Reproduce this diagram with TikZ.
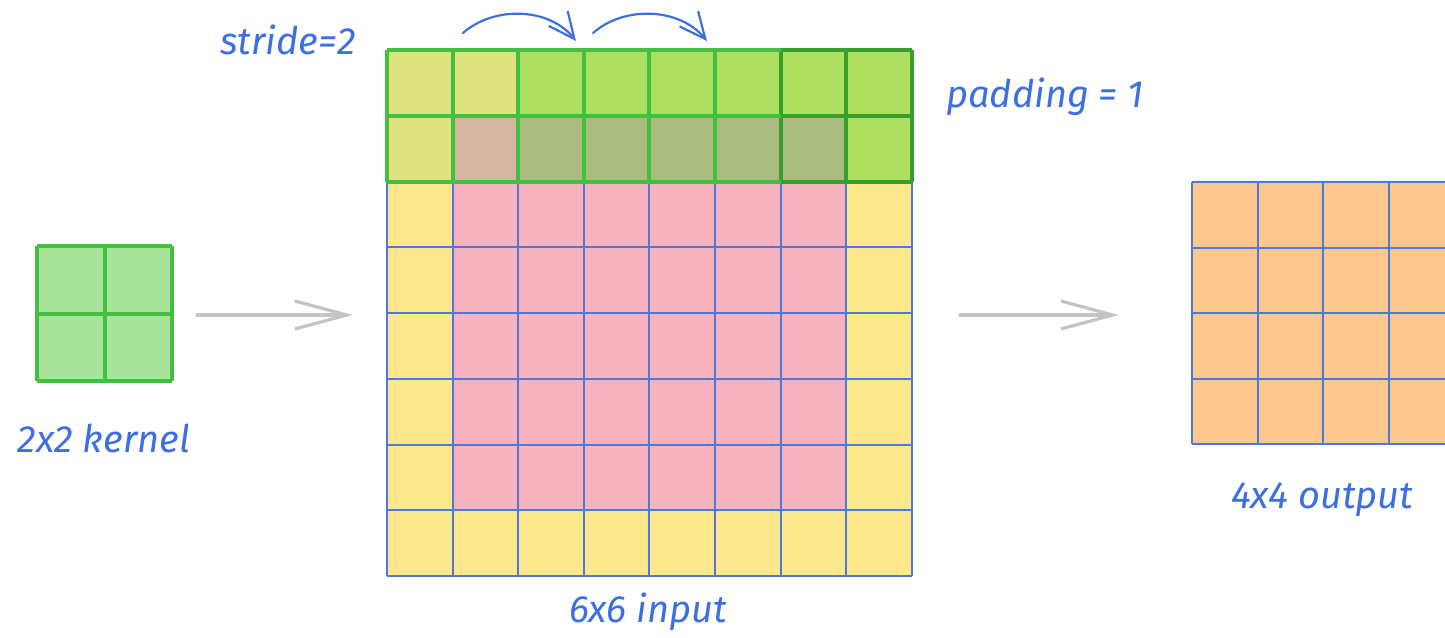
\documentclass[tikz,border=0pt]{standalone}
\usepackage{fontspec}
\setmainfont{Fira Sans}
\usetikzlibrary{arrows.meta}
\definecolor{padyellow}{HTML}{FDE98C}
\definecolor{datapink}{HTML}{F7B3C0}
\definecolor{outorange}{HTML}{FDC890}
\definecolor{kfill}{HTML}{A8E49C}
\definecolor{kline}{HTML}{44C040}
\definecolor{ygreen}{HTML}{DFE47E}
\definecolor{bgreen}{HTML}{AEDF60}
\definecolor{tanmix}{HTML}{D6B6A0}
\definecolor{olivemix}{HTML}{ACBB80}
\definecolor{dgreen}{HTML}{35A02E}
\definecolor{gridblue}{HTML}{4F78D8}
\definecolor{labelblue}{HTML}{3D6FE0}
\definecolor{arrowgray}{HTML}{C4C4C4}
\tikzset{
  lbl/.style={text=labelblue, font=\fontsize{19}{22}\selectfont\itshape, inner sep=0pt},
  bluegrid/.style={draw=gridblue, line width=1pt},
  greengrid/.style={draw=kline, line width=2pt},
  flowarrow/.style={draw=arrowgray, line width=1.6pt, line cap=round,
    -{Straight Barb[length=26pt, width=14pt, line width=1.6pt]}},
  stridearrow/.style={draw=labelblue, line width=1.1pt, line cap=round,
    -{Straight Barb[length=13pt, width=12pt, line width=1.1pt]}},
}
\begin{document}
\begin{tikzpicture}[x=0.5pt, y=-0.5pt]
\useasboundingbox (0,0) rectangle (1445,637);
\clip (0,0) rectangle (1445,637);

% ---- 2x2 kernel ----
\def\kc{67.5}
\foreach \i in {0,1} \foreach \j in {0,1}
  \fill[kfill] (37+\i*\kc, 246+\j*\kc) rectangle ++(\kc,\kc);
\foreach \i in {0,1,2}
  \draw[kline, line width=2pt] (37+\i*\kc,246) -- (37+\i*\kc,381);
\foreach \j in {0,1,2}
  \draw[kline, line width=2pt] (37,246+\j*\kc) -- (172,246+\j*\kc);
\node[inner sep=0pt, minimum width=67.5pt, minimum height=67.5pt] (kernel) at (104.5,313.5) {};

% ---- padded 6x6 input (8x8 with padding) ----
\def\ix{387}\def\iy{50}\def\cw{65.6}\def\ch{65.75}
% body cells
\foreach \i in {0,...,7} \foreach \j in {2,...,7}{
  \pgfmathtruncatemacro{\inner}{(\i>0)&&(\i<7)&&(\j<7)}
  \ifnum\inner=1 \def\cc{datapink}\else\def\cc{padyellow}\fi
  \fill[\cc] (\ix+\i*\cw, \iy+\j*\ch) rectangle ++(\cw,\ch);
}
% kernel sweep over the first two rows
\foreach \i/\cc in {0/ygreen,1/ygreen,2/bgreen,3/bgreen,4/bgreen,5/bgreen,6/bgreen,7/bgreen}
  \fill[\cc] (\ix+\i*\cw, \iy) rectangle ++(\cw,\ch);
\foreach \i/\cc in {0/ygreen,1/tanmix,2/olivemix,3/olivemix,4/olivemix,5/olivemix,6/olivemix,7/bgreen}
  \fill[\cc] (\ix+\i*\cw, \iy+\ch) rectangle ++(\cw,\ch);
% blue grid lines
\foreach \i in {0,...,8}
  \draw[bluegrid] (\ix+\i*\cw, \iy+2*\ch) -- (\ix+\i*\cw, \iy+8*\ch);
\foreach \j in {3,...,8}
  \draw[bluegrid] (\ix, \iy+\j*\ch) -- (\ix+8*\cw, \iy+\j*\ch);
% green kernel outlines
\foreach \i in {0,...,5}
  \draw[greengrid] (\ix+\i*\cw, \iy) -- (\ix+\i*\cw, \iy+2*\ch);
\foreach \i in {6,7,8}
  \draw[greengrid, draw=dgreen] (\ix+\i*\cw, \iy) -- (\ix+\i*\cw, \iy+2*\ch);
\foreach \j in {0,1,2}{
  \draw[greengrid] (\ix, \iy+\j*\ch) -- (\ix+6*\cw, \iy+\j*\ch);
  \draw[greengrid, draw=dgreen] (\ix+6*\cw, \iy+\j*\ch) -- (\ix+8*\cw, \iy+\j*\ch);
}
\node[inner sep=0pt, minimum width=262.4pt, minimum height=263pt] (input) at (\ix+4*\cw, \iy+4*\ch) {};

% ---- 4x4 output ----
\def\ox{1192}\def\oy{182}\def\oc{65.5}
\foreach \i in {0,...,3} \foreach \j in {0,...,3}
  \fill[outorange] (\ox+\i*\oc, \oy+\j*\oc) rectangle ++(\oc,\oc);
\foreach \i in {0,...,4}
  \draw[bluegrid] (\ox+\i*\oc, \oy) -- (\ox+\i*\oc, \oy+4*\oc);
\foreach \j in {0,...,4}
  \draw[bluegrid] (\ox, \oy+\j*\oc) -- (\ox+4*\oc, \oy+\j*\oc);
\node[inner sep=0pt, minimum width=131pt, minimum height=131pt] (output) at (\ox+2*\oc, \oy+2*\oc) {};

% ---- flow arrows ----
\coordinate (k2i-a) at (197,315);
\coordinate (k2i-b) at (353,315);
\coordinate (i2o-a) at (960,315);
\coordinate (i2o-b) at (1119,315);
\draw[flowarrow] (k2i-a) -- (k2i-b);
\draw[flowarrow] (i2o-a) -- (i2o-b);

% ---- stride arcs ----
\coordinate (s1a) at (463,33); \coordinate (s1b) at (576,41);
\coordinate (s2a) at (593,33); \coordinate (s2b) at (707,41);
\draw[stridearrow] (s1a) .. controls (495,5) and (550,8) .. (s1b);
\draw[stridearrow] (s2a) .. controls (625,5) and (680,8) .. (s2b);

% ---- labels ----
\node[lbl] (stride) at (288,40) {stride=2};
\node[lbl] (padding) at (1045,97) {padding = 1};
\node[lbl] (klabel) at (104,438) {2x2 kernel};
\node[lbl] (ilabel) at (648,612) {6x6 input};
\node[lbl] (olabel) at (1322,500) {4x4 output};
\end{tikzpicture}
\end{document}
